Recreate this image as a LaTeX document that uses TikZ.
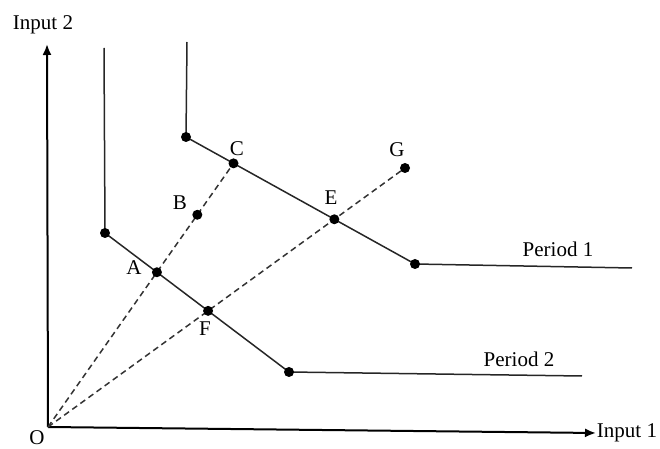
\documentclass[tikz,border=0pt]{standalone}
\usepackage{fontspec}
\setmainfont{Liberation Serif}
\usetikzlibrary{arrows.meta,calc}
\begin{document}
\begin{tikzpicture}[x=0.5pt,y=-0.5pt,
  dot/.style={circle,fill=black,inner sep=0pt,minimum size=5pt},
  lbl/.style={font=\fontsize{10.5}{12}\selectfont, inner sep=0pt},
  iso/.style={line width=0.75pt, draw=black!85},
  axis/.style={line width=1pt,-{Latex[length=5.5pt,width=4.5pt]}},
  ray/.style={line width=0.75pt, dash pattern=on 3pt off 2pt, draw=black!80}]
\useasboundingbox (0,0) rectangle (660,449);
% axes
\coordinate (O) at (48,427);
\coordinate (Ytip) at (47,44);
\coordinate (Xtip) at (596,433);
\draw[axis] (O) -- (Ytip);
\draw[axis] (O) -- (Xtip);
\node[lbl] (in2) at (43,25) {Input 2};
\node[lbl] (in1) at (627,433) {Input 1};
\node[lbl] (o) at (37,438) {O};
% period 2 isoquant
\coordinate (p2top) at (104,48);
\coordinate (p2a) at (105,233);
\coordinate (p2b) at (289,372);
\coordinate (p2end) at (582,376);
\draw[iso] (p2top) -- (p2a) -- (p2b) -- (p2end);
% period 1 isoquant
\coordinate (p1top) at (187,42);
\coordinate (p1a) at (186,137);
\coordinate (p1b) at (415,264);
\coordinate (p1end) at (632,268);
\draw[iso] (p1top) -- (p1a) -- (p1b) -- (p1end);
% rays
\coordinate (Cdir) at (233,164);
\coordinate (G) at (405,168);
\coordinate (C) at (intersection of O--Cdir and p1a--p1b);
\coordinate (E) at (intersection of O--G and p1a--p1b);
\coordinate (A) at (intersection of O--C and p2a--p2b);
\coordinate (F) at (intersection of O--G and p2a--p2b);
\coordinate (B) at ($(O)!0.805!(C)$);
\draw[ray] (O) -- (C);
\draw[ray] (O) -- (G);
% dots
\foreach \p in {p2a,p2b,p1a,p1b,A,B,C,E,F,G}
  \node[dot] (dot\p) at (\p) {};
% labels
\node[lbl] (lC) at (237,149) {C};
\node[lbl] (lB) at (180,203) {B};
\node[lbl] (lA) at (134,268) {A};
\node[lbl] (lF) at (205,329) {F};
\node[lbl] (lE) at (331,198) {E};
\node[lbl] (lG) at (397,150) {G};
\node[lbl] (per1) at (558,249) {Period 1};
\node[lbl] (per2) at (519,359) {Period 2};
\end{tikzpicture}
\end{document}
